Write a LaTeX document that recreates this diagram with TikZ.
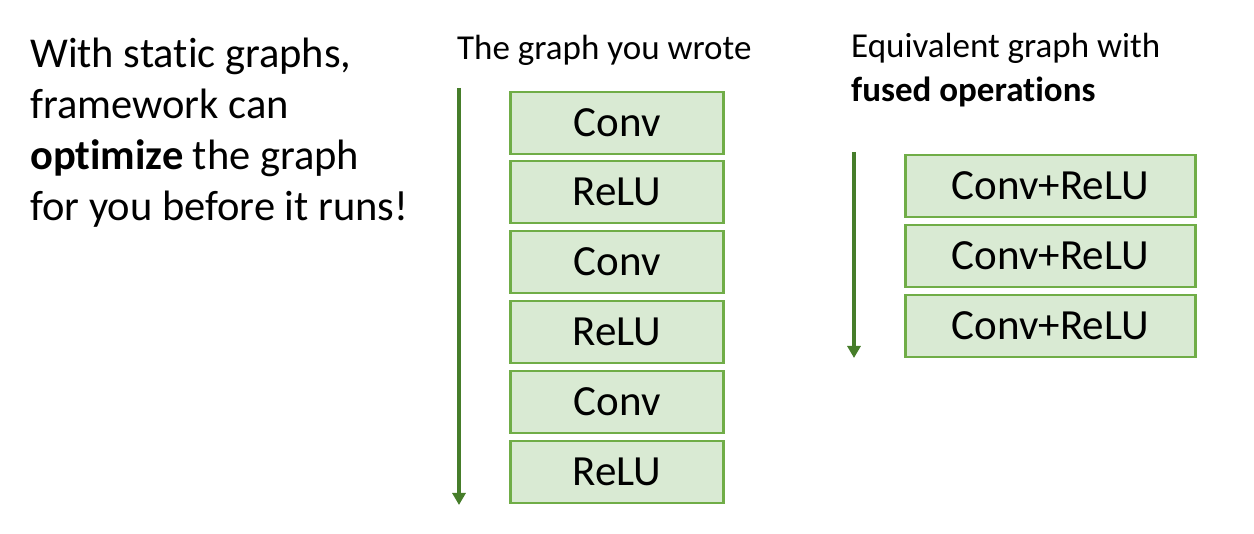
\documentclass[tikz,border=0pt]{standalone}
\usepackage{fontspec}
\setmainfont{Carlito}[Ligatures=CommonOff]
\usetikzlibrary{arrows.meta}
\definecolor{boxfill}{HTML}{D9EAD3}
\definecolor{boxline}{HTML}{70AD47}
\definecolor{flowline}{HTML}{467D2A}
\tikzset{
  opbox/.style={draw=boxline, fill=boxfill, line width=2.6pt, rectangle,
    inner sep=0pt, font=\fontsize{43}{48}\selectfont},
  smallop/.style={opbox, minimum width=213pt, minimum height=62pt},
  wideop/.style={opbox, minimum width=290pt, minimum height=62pt},
  flow/.style={draw=flowline, line width=3.6pt, -{Triangle[width=13pt,length=12pt]}},
  para/.style={anchor=base west, inner sep=0pt, font=\fontsize{42.5}{50}\selectfont},
  head/.style={anchor=base west, inner sep=0pt, font=\fontsize{35}{42}\selectfont},
}
\begin{document}
\begin{tikzpicture}[x=1pt, y=-1pt]
  \useasboundingbox (0,0) rectangle (1254,534);

  % explanatory text on the left
  \node[para] (t1) at (30,68)  {With static graphs,};
  \node[para] (t2) at (30,119) {framework can};
  \node[para] (t3) at (30,170) {\textbf{optimize} the graph};
  \node[para] (t4) at (30,221) {for you before it runs!};

  % column headings
  \node[head] (h1) at (457,60)  {The graph you wrote};
  \node[head] (h2) at (851,58)  {Equivalent graph with};
  \node[head] (h3) at (851,102) {\textbf{fused operations}};

  % graph as written
  \node[smallop] (a1) at (617,123) {Conv};
  \node[smallop] (a2) at (617,192) {ReLU};
  \node[smallop] (a3) at (617,262) {Conv};
  \node[smallop] (a4) at (617,332) {ReLU};
  \node[smallop] (a5) at (617,402) {Conv};
  \node[smallop] (a6) at (617,472) {ReLU};
  \coordinate (la) at (459,88);
  \coordinate (lb) at (459,505);
  \draw[flow] (la) -- (lb);

  % fused graph
  \node[wideop] (b1) at (1050.5,186) {Conv+ReLU};
  \node[wideop] (b2) at (1050.5,256) {Conv+ReLU};
  \node[wideop] (b3) at (1050.5,326) {Conv+ReLU};
  \coordinate (ra) at (854,152);
  \coordinate (rb) at (854,358);
  \draw[flow] (ra) -- (rb);
\end{tikzpicture}
\end{document}
